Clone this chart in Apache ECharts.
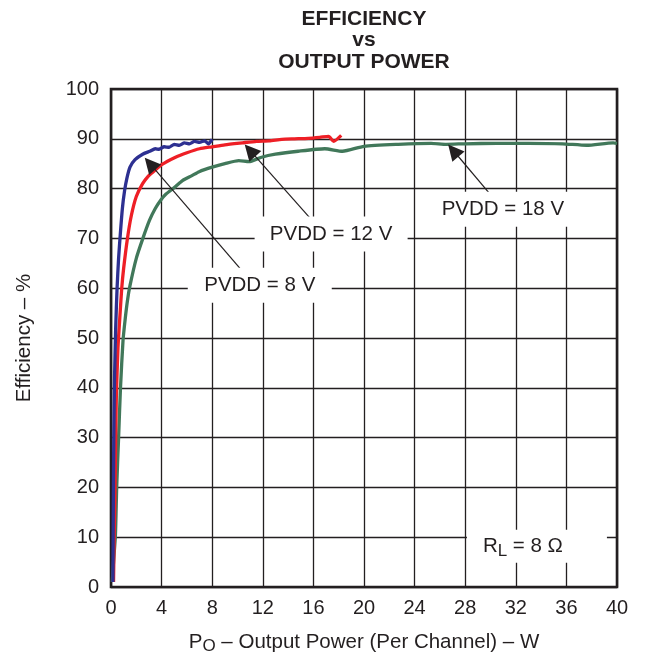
<!DOCTYPE html>
<html>
<head>
<meta charset="utf-8">
<script src="https://cdn.jsdelivr.net/npm/echarts@6/dist/echarts.min.js"></script>
<style>
html,body{margin:0;padding:0;background:#fff;}
#c{width:663px;height:660px;}
</style>
</head>
<body>
<div id="c"></div>
<script>
// ---- data (Output power W, Efficiency %) ----
const pvdd8 = [
  [0.15,1],[0.18,15],[0.22,30],[0.28,42],[0.37,52],[0.48,60],[0.6,66],[0.74,71],[0.9,76],
  [1.07,79.5],[1.25,82],[1.5,84.3],[1.9,85.8],[2.5,86.9],[3.07,87.5],[3.5,88.0],[3.8,87.9],
  [4.2,88.4],[4.6,88.3],[5.0,88.9],[5.4,88.7],[5.8,89.2],[6.2,89.0],[6.6,89.5],[7.0,89.3],
  [7.4,89.6],[7.7,89.0],[8.0,89.9]
];
const pvdd12 = [
  [0.2,1],[0.25,10],[0.31,18],[0.36,28],[0.42,38],[0.55,48],[0.72,55],[0.85,60],[1.0,64],
  [1.3,70],[1.6,74.5],[2.0,78.4],[2.5,81],[2.95,82.5],[3.3,83.3],[4.0,84.8],[5.1,86.3],[6.0,87.2],
  [7.0,88.0],[8.0,88.4],[9.0,88.8],[10.4,89.2],[11.5,89.5],[12.5,89.6],[13.5,89.9],[14.5,90.0],
  [15.6,90.1],[16.5,90.3],[17.2,90.5],[17.6,89.5],[18.2,90.7]
];
const pvdd18 = [
  [0.1,1],[0.2,5],[0.35,10.4],[0.45,20],[0.6,30],[0.75,40],[0.95,49.5],[1.13,54],[1.3,57.5],
  [1.5,60.5],[2.0,66],[2.52,70],[3.04,73.6],[3.5,76],[3.97,77.8],[4.35,78.9],[5.1,80.4],[5.65,81.6],
  [6.4,82.6],[6.97,83.4],[8.0,84.3],[9.0,85.0],[10.1,85.6],[10.9,85.4],[11.9,86.3],[13.0,86.9],
  [14.8,87.5],[16.9,88.0],[18.3,87.5],[20.0,88.5],[22.7,88.9],[25.3,89.1],[26.5,88.9],[28,89.0],
  [30.5,89.1],[33,89.1],[35.7,89.0],[37.6,88.7],[39.7,89.2],[40,89.1]
];
const seriesNames = ['PVDD = 8 V','PVDD = 12 V','PVDD = 18 V'];
const labelText = ['PVDD = 8 V','PVDD = 12 V','PVDD = 18 V','R{sub|L} = 8 \u03A9'];
const labelPos = [[11.76,60.57],[17.4,70.9],[30.98,75.85],[33.67,8.16]];
const arrowFrom = [[10.18,64.05],[15.72,74.11],[29.95,78.94]];
const arrowTo = [[3.08,85.0],[10.99,87.67],[27.06,87.65]];
const xTicks = {min:0,max:40,interval:4};
const yTicks = {min:0,max:100,interval:10};

const FONT = '"Liberation Sans", Arial, Helvetica, sans-serif';
const TXT = '#231f20';
const boxSizes = [[144,35],[153,35],[150,35],[140,33]];
const labelOffsets = [[0,0],[0,0],[0,0],[-14,0]];

const chart = echarts.init(document.getElementById('c'), null, {renderer:'canvas'});

const markPointData = labelText.map((t,i)=>({
  coord: labelPos[i],
  symbolSize: boxSizes[i],
  label: {offset: labelOffsets[i]},
  value: t
}));
const markLineData = arrowFrom.map((f,i)=>[{coord:f},{coord:arrowTo[i]}]);

const option = {
  animation: false,
  backgroundColor: '#fff',
  title: {
    text: 'EFFICIENCY\nvs\nOUTPUT POWER',
    left: 364, top: 8, padding: 0,
    textAlign: 'center',
    textStyle: {fontFamily: FONT, fontSize: 21, fontWeight: 'bold', color: TXT, lineHeight: 21.6}
  },
  grid: {left:111, right:46, top:89, bottom:67, show:true, borderWidth:2.6, borderColor:TXT, backgroundColor:'transparent'},
  xAxis: {
    type:'value', min:xTicks.min, max:xTicks.max, interval:xTicks.interval,
    axisLine:{show:false}, axisTick:{show:false},
    splitLine:{show:true, lineStyle:{color:TXT, width:1.3}},
    axisLabel:{fontFamily:FONT, fontSize:20, color:TXT, margin:11},
    name:'P{sub|O} \u2013 Output Power (Per Channel) \u2013 W',
    nameLocation:'middle', nameGap:42,
    nameTextStyle:{fontFamily:FONT, fontSize:20.5, color:TXT,
      rich:{sub:{fontFamily:FONT, fontSize:17, color:TXT, padding:[9,0,0,0]}}}
  },
  yAxis: {
    type:'value', min:yTicks.min, max:yTicks.max, interval:yTicks.interval,
    axisLine:{show:false}, axisTick:{show:false},
    splitLine:{show:true, lineStyle:{color:TXT, width:1.3}},
    axisLabel:{fontFamily:FONT, fontSize:20, color:TXT, margin:12},
    name:'Efficiency \u2013 %', nameLocation:'middle', nameGap:76,
    nameTextStyle:{fontFamily:FONT, fontSize:20.5, color:TXT}
  },
  series: [
    {name:seriesNames[2], type:'line', data:pvdd18, showSymbol:false, smooth:0.2,
      lineStyle:{color:'#41785a', width:3.3}, itemStyle:{color:'#41785a'}, z:3},
    {name:seriesNames[1], type:'line', data:pvdd12, showSymbol:false, smooth:0.2,
      lineStyle:{color:'#ee1f26', width:3.3}, itemStyle:{color:'#ee1f26'}, z:4},
    {name:seriesNames[0], type:'line', data:pvdd8, showSymbol:false, smooth:0.2,
      lineStyle:{color:'#2d3091', width:3.3}, itemStyle:{color:'#2d3091'}, z:5},
    {name:'annotations', type:'line', data:[], z:6, silent:true,
      markLine:{
        silent:true, animation:false,
        symbol:['none','triangle'],
        symbolSize:16,
        label:{show:false},
        lineStyle:{color:TXT, width:1.2, type:'solid'},
        itemStyle:{color:TXT},
        emphasis:{disabled:true},
        data: markLineData
      },
      markPoint:{
        silent:true, animation:false,
        symbol:'rect',
        itemStyle:{color:'#fff'},
        label:{show:true, position:'inside', fontFamily:FONT, fontSize:20.5, color:TXT,
          formatter:(p)=>p.value,
          rich:{sub:{fontFamily:FONT, fontSize:17, color:TXT, padding:[9,0,0,0]}}},
        emphasis:{disabled:true},
        data: markPointData
      }
    }
  ]
};
chart.setOption(option);
</script>
</body>
</html>
